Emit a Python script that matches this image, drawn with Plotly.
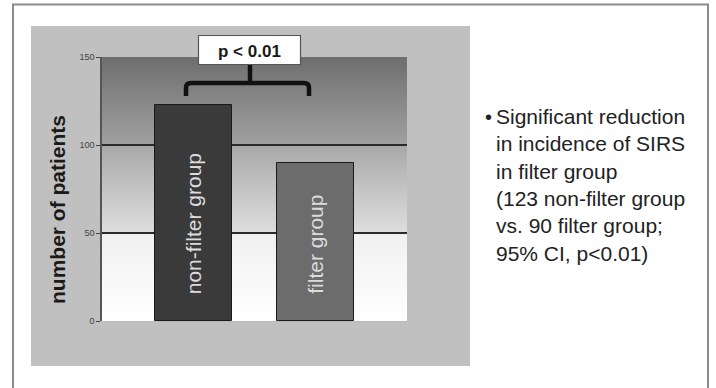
import base64
import struct
import zlib

import plotly.graph_objects as go

# Data
groups = ["non-filter group", "filter group"]
patients = [123, 90]
bar_colors = ["#3a3a3a", "#6c6c6c"]
y_ticks = [0, 50, 100, 150]
p_label = "p < 0.01"
bullet_lines = [
    "Significant reduction",
    "in incidence of SIRS",
    "in filter group",
    "(123 non-filter group",
    "vs. 90 filter group;",
    "95% CI, p<0.01)",
]

W, H = 716, 388
L, R, T, B = 102, 407, 57, 321  # plot area in pixels
FONT = "Liberation Sans, Arial, sans-serif"


def px(x):
    return (x - L) / (R - L)


def py(y):
    return (B - y) / (B - T)


# grey levels of the plot-area background, by y value
stops = [(0, 255), (25, 248), (50, 240), (50.01, 222), (75, 196), (100, 168),
         (100.01, 160), (125, 136), (150, 110)]


def grey_at(v):
    for (a, ca), (b, cb) in zip(stops[:-1], stops[1:]):
        if a <= v <= b:
            t = 0 if b == a else (v - a) / (b - a)
            return ca + (cb - ca) * t
    return stops[-1][1]


def png_uri(greys):
    """Encode a column of grey levels (top to bottom) as a 2-px wide PNG."""
    raw = b""
    for g in greys:
        raw += b"\x00" + bytes([g, g, g]) * 2

    def chunk(tag, data):
        c = struct.pack(">I", len(data)) + tag + data
        return c + struct.pack(">I", zlib.crc32(tag + data) & 0xFFFFFFFF)

    png = b"\x89PNG\r\n\x1a\n"
    png += chunk(b"IHDR", struct.pack(">IIBBBBB", 2, len(greys), 8, 2, 0, 0, 0))
    png += chunk(b"IDAT", zlib.compress(raw))
    png += chunk(b"IEND", b"")
    return "data:image/png;base64," + base64.b64encode(png).decode()


rows = 300
gradient = [int(round(grey_at(150 * (1 - (r + 0.5) / rows)))) for r in range(rows)]

fig = go.Figure()

fig.add_trace(go.Bar(
    x=[0, 1], y=patients, width=0.63,
    marker=dict(color=bar_colors, line=dict(color="#1a1a1a", width=1)),
    hoverinfo="skip", showlegend=False,
))

shapes = []

# outer frame
frame_col = "#8a8a8a"
shapes.append(dict(type="line", xref="paper", yref="paper", x0=px(13), x1=px(13),
                   y0=py(4.5), y1=py(390), line=dict(color=frame_col, width=2)))
shapes.append(dict(type="line", xref="paper", yref="paper", x0=px(708), x1=px(708),
                   y0=py(4.5), y1=py(390), line=dict(color=frame_col, width=2)))
shapes.append(dict(type="line", xref="paper", yref="paper", x0=px(12), x1=px(709),
                   y0=py(4.5), y1=py(4.5), line=dict(color=frame_col, width=2)))


# significance bracket
def P(x, y):
    return f"{px(x):.5f},{py(y):.5f}"


bracket = (f"M{P(186, 96)} L{P(186, 88)} Q{P(186, 83)} {P(191, 83)} "
           f"L{P(304, 83)} Q{P(309, 83)} {P(309, 88)} L{P(309, 96)}")
shapes.append(dict(type="path", xref="paper", yref="paper", path=bracket,
                   line=dict(color="#111111", width=4.5)))
shapes.append(dict(type="line", xref="paper", yref="paper", x0=px(250), x1=px(250),
                   y0=py(84), y1=py(64), line=dict(color="#111111", width=4.5)))
shapes.append(dict(type="rect", xref="paper", yref="paper", x0=px(198.5), x1=px(300.5),
                   y0=py(64.5), y1=py(35.5), fillcolor="white",
                   line=dict(color="#555555", width=1.2)))

annotations = [
    dict(text=f"<b>{p_label}</b>", xref="paper", yref="paper", x=px(249.5), y=py(51),
         xanchor="center", yanchor="middle", showarrow=False,
         font=dict(family=FONT, size=17, color="#1a1a1a")),
    dict(text="<b>number of patients</b>", xref="paper", yref="paper", x=px(57), y=py(210),
         xanchor="center", yanchor="middle", textangle=-90, showarrow=False,
         font=dict(family=FONT, size=21, color="#1a1a1a")),
    dict(text="•", xref="paper", yref="paper", x=px(488), y=py(117),
         xanchor="center", yanchor="middle", showarrow=False,
         font=dict(family=FONT, size=20, color="#222222")),
    dict(text="<br>".join(bullet_lines), xref="paper", yref="paper", x=px(494), y=py(103),
         xanchor="left", yanchor="top", align="left", showarrow=False,
         font=dict(family=FONT, size=21, color="#222222")),
]

# labels written inside the bars
for i, g in enumerate(groups):
    annotations.append(dict(
        text=g, x=i, y=0, xref="x", yref="y", xanchor="center", yanchor="bottom",
        yshift=25, textangle=-90, showarrow=False,
        font=dict(family=FONT, size=21, color="#dcdcdc"),
    ))

images = [
    # grey chart panel
    dict(source=png_uri([192, 192]), xref="paper", yref="paper",
         x=px(31), y=py(26), sizex=px(470) - px(31), sizey=py(26) - py(366),
         xanchor="left", yanchor="top", sizing="stretch", layer="below"),
    # shaded plot area
    dict(source=png_uri(gradient), xref="paper", yref="paper", x=0, y=1,
         sizex=1, sizey=1, xanchor="left", yanchor="top",
         sizing="stretch", layer="below"),
]

fig.update_layout(
    width=W, height=H,
    margin=dict(l=L, r=W - R, t=T, b=H - B, pad=0),
    paper_bgcolor="white",
    plot_bgcolor="rgba(0,0,0,0)",
    shapes=shapes,
    annotations=annotations,
    images=images,
    bargap=0,
    xaxis=dict(range=[-0.755, 1.755], showticklabels=False, ticks="", showgrid=False,
               zeroline=False, showline=True, linecolor="#b8b8b8", linewidth=1, fixedrange=True),
    yaxis=dict(range=[0, 150], tickvals=y_ticks, ticks="outside", ticklen=4, tickwidth=1,
               tickcolor="#444444", showline=True, linecolor="#555555", linewidth=1.5,
               showgrid=True, gridcolor="#2a2a2a", gridwidth=1.5, zeroline=False,
               tickfont=dict(family=FONT, size=9, color="#444444"),
               fixedrange=True),
)

fig.write_html("out.html", config={"displayModeBar": False})
